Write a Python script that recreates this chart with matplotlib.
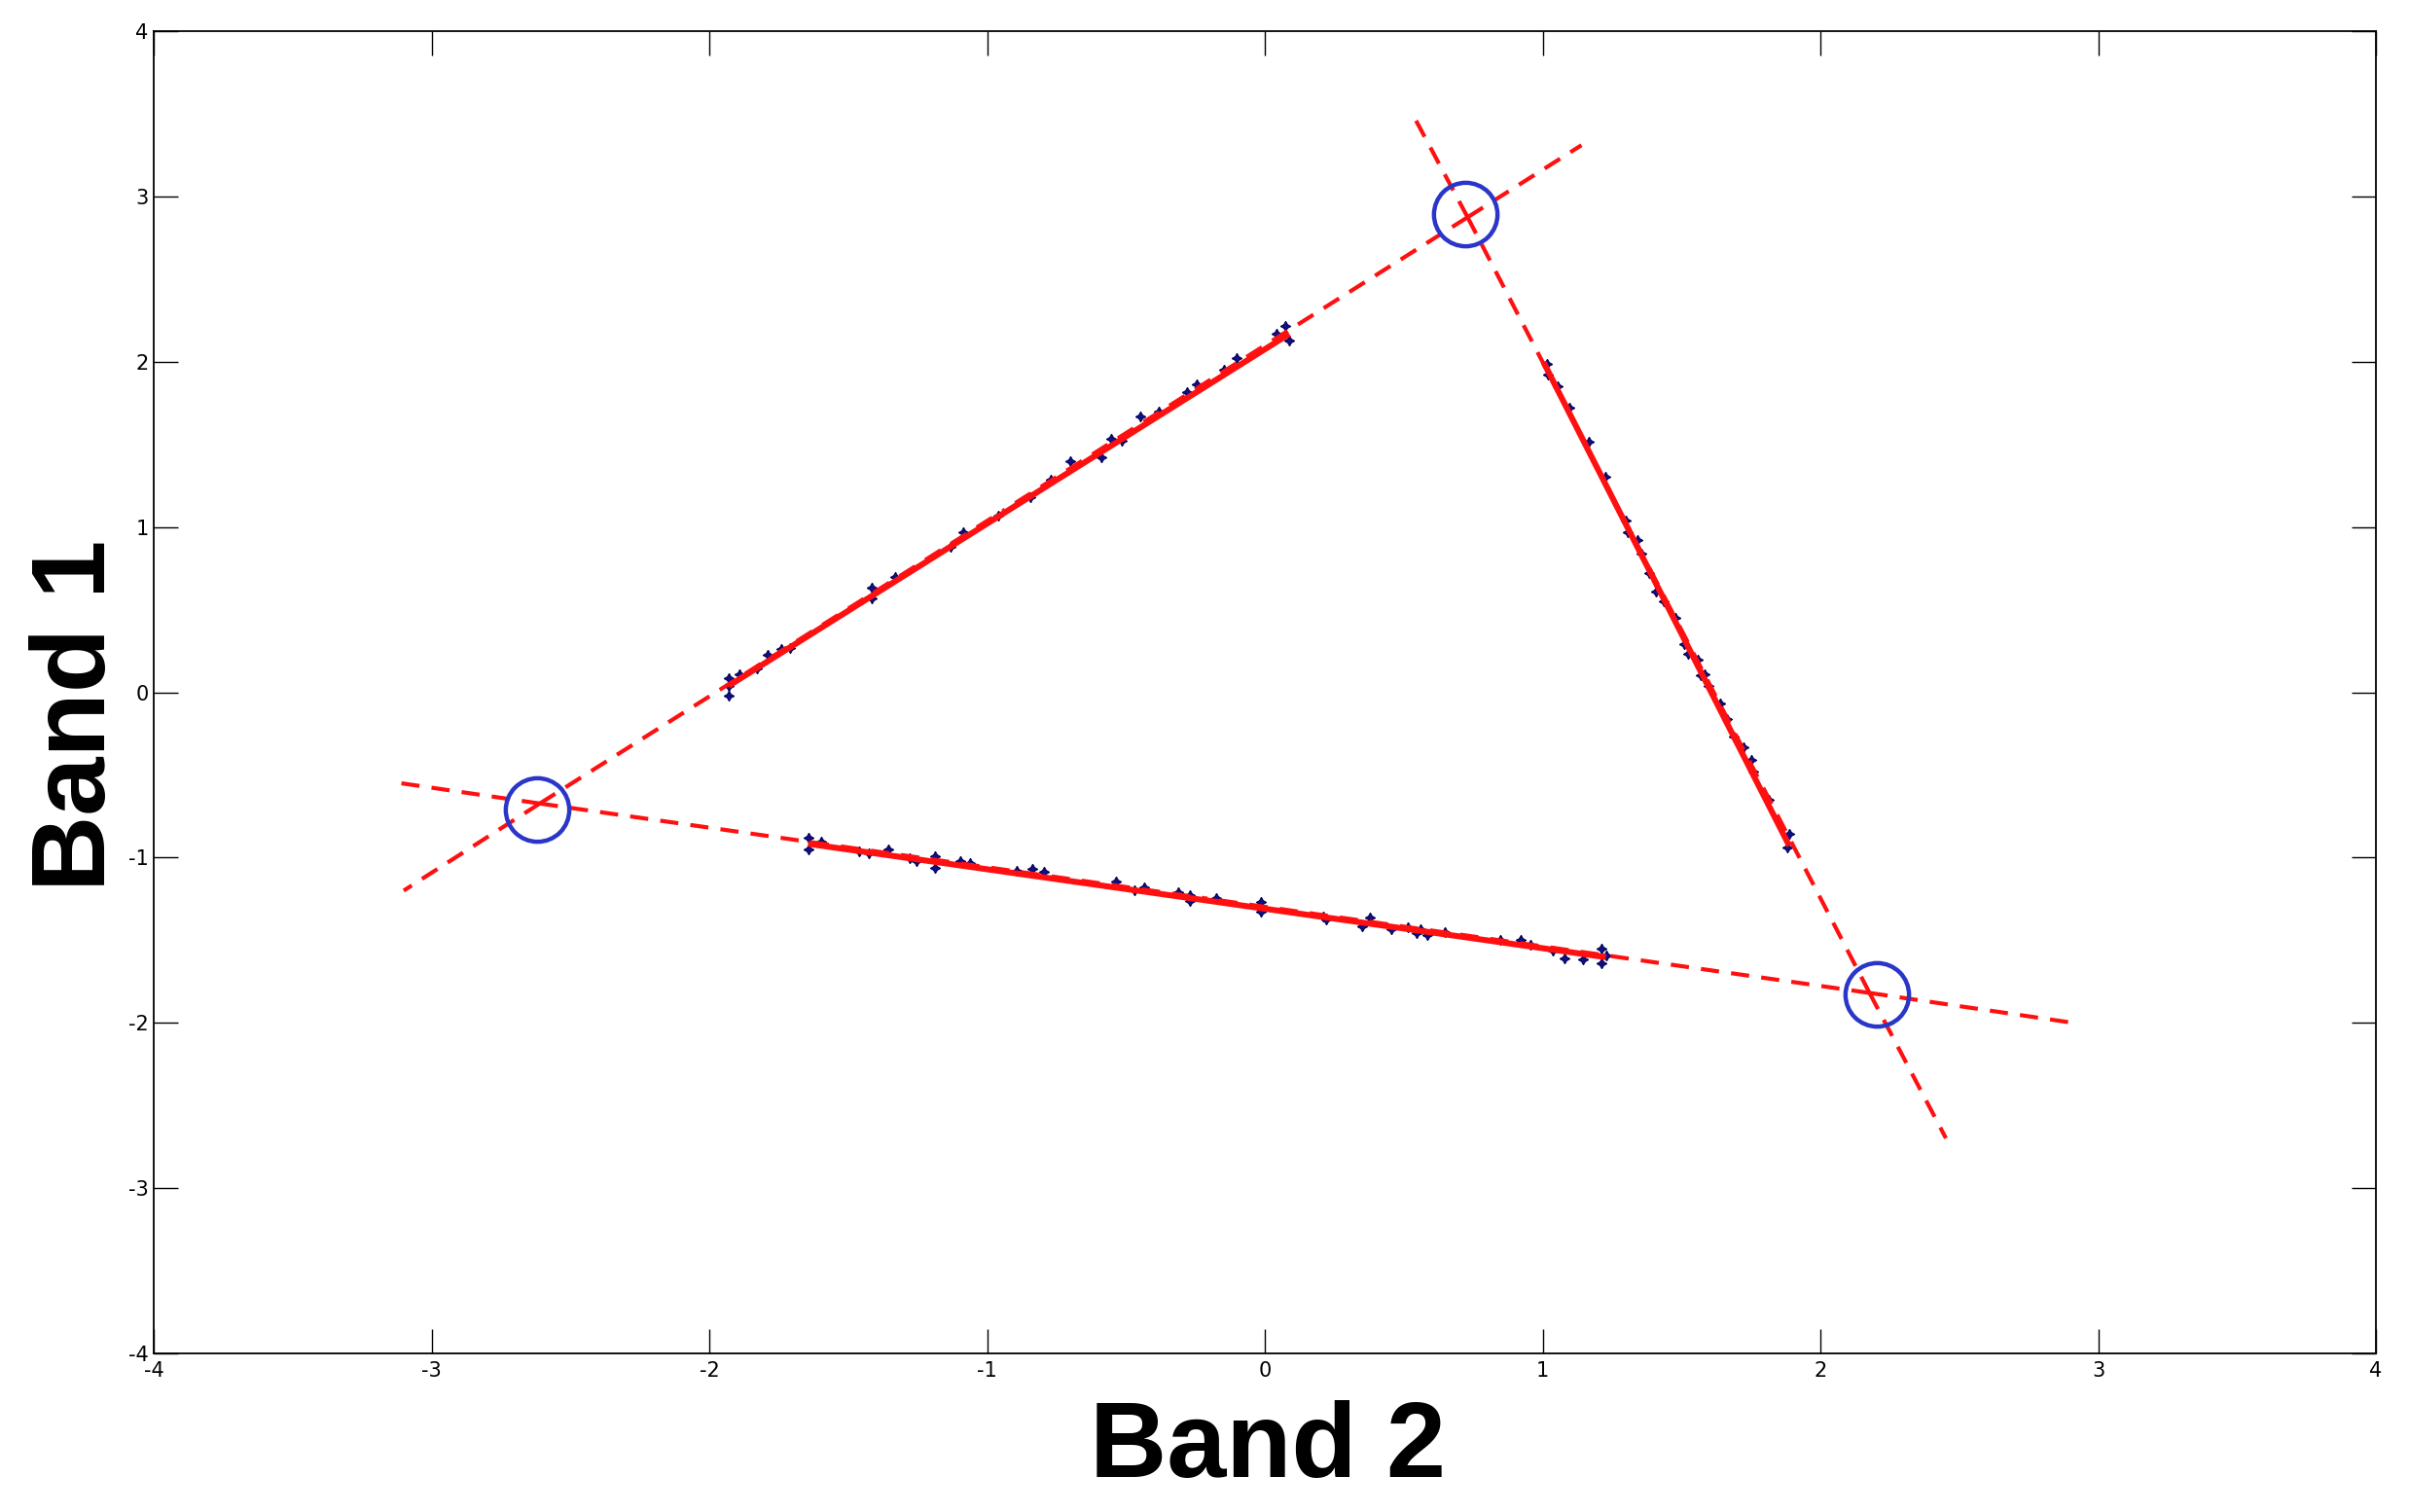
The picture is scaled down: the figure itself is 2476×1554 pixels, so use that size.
import matplotlib
matplotlib.use("Agg")
import matplotlib.pyplot as plt
import numpy as np

# ---- data ----
# scatter points along each edge
A_x = [-1.930, -1.930, -1.930, -1.890, -1.828, -1.789, -1.742, -1.711, -1.414, -1.414,
       -1.331, -1.132, -1.085, -0.960, -0.843, -0.772, -0.699, -0.588, -0.553, -0.515,
       -0.449, -0.381, -0.280, -0.246, -0.147, -0.103, 0.041, 0.072, 0.088]
A_y = [0.088, 0.039, -0.020, 0.108, 0.147, 0.225, 0.261, 0.270, 0.633, 0.569,
       0.700, 0.882, 0.971, 1.069, 1.183, 1.288, 1.398, 1.422, 1.536, 1.520,
       1.667, 1.697, 1.815, 1.863, 1.952, 2.021, 2.168, 2.217, 2.128]

B_x = [1.015, 1.021, 1.056, 1.098, 1.167, 1.226, 1.299, 1.306, 1.341, 1.354,
       1.383, 1.409, 1.437, 1.478, 1.508, 1.525, 1.559, 1.568, 1.583, 1.597,
       1.638, 1.662, 1.689, 1.722, 1.751, 1.758, 1.816, 1.888, 1.882]
B_y = [1.987, 1.923, 1.849, 1.721, 1.515, 1.306, 1.041, 0.970, 0.919, 0.838,
       0.721, 0.608, 0.551, 0.450, 0.289, 0.231, 0.195, 0.103, 0.110, 0.039,
       -0.067, -0.162, -0.269, -0.333, -0.407, -0.482, -0.652, -0.854, -0.939]

C_x = [-1.644, -1.644, -1.596, -1.460, -1.425, -1.354, -1.278, -1.255, -1.189, -1.189,
       -1.097, -1.062, -0.893, -0.838, -0.796, -0.537, -0.470, -0.434, -0.313, -0.271,
       -0.271, -0.175, -0.015, -0.015, 0.210, 0.222, 0.350, 0.379, 0.455, 0.514,
       0.546, 0.560, 0.586, 0.648, 0.847, 0.922, 0.957, 1.036, 1.078, 1.144,
       1.212, 1.212, 1.228]
C_y = [-0.883, -0.952, -0.903, -0.962, -0.976, -0.948, -1.001, -1.021, -0.991, -1.060,
       -1.021, -1.031, -1.079, -1.069, -1.085, -1.144, -1.197, -1.178, -1.207, -1.226,
       -1.262, -1.246, -1.270, -1.329, -1.354, -1.374, -1.413, -1.364, -1.433, -1.423,
       -1.458, -1.433, -1.466, -1.452, -1.497, -1.497, -1.525, -1.560, -1.609, -1.615,
       -1.550, -1.639, -1.590]

# fitted solid segments
solidA_x = [-1.930, 0.088]
solidA_y = [0.039, 2.168]
solidB_x = [1.003, 1.888]
solidB_y = [1.998, -0.929]
solidC_x = [-1.644, 1.228]
solidC_y = [-0.917, -1.603]

# intersection points (vertices): left, top, right
vert_x = [-2.610, 0.730, 2.177]
vert_y = [-0.673, 2.874, -1.819]

# outer ends of the dashed extensions
endA_x = [-3.100, 1.140]
endA_y = [-1.200, 3.310]
endB_x = [0.543, 2.452]
endB_y = [3.463, -2.698]
endC_x = [-3.111, 2.930]
endC_y = [-0.550, -2.005]

# circled endmembers
circ_x = [-2.619, 0.722, 2.203]
circ_y = [-0.707, 2.893, -1.825]

xticks = [-4, -3, -2, -1, 0, 1, 2, 3, 4]
yticks = [-4, -3, -2, -1, 0, 1, 2, 3, 4]

# ---- figure ----
W, H = 2476, 1554
fig = plt.figure(figsize=(W / 100, H / 100), dpi=100)
ax = fig.add_axes([158 / W, 1 - 1391 / H, (2442 - 158) / W, (1391 - 32) / H])

RED = '#ff1010'
BLUE_PT = '#10108c'
dash = (4.5, 3.0)

# points
for px, py in [(A_x, A_y), (B_x, B_y), (C_x, C_y)]:
    ax.plot(px, py, linestyle='none', marker=(4, 1, 0), ms=7.5, color=BLUE_PT,
            mec='#000050', mew=0.8, zorder=2)

# dashed extension lines, drawn outward from each vertex
lines = [
    (0, 1, endA_x, endA_y),   # left vertex - top vertex
    (1, 2, endB_x, endB_y),   # top vertex - right vertex
    (0, 2, endC_x, endC_y),   # left vertex - right vertex
]
for i, j, ex, ey in lines:
    vi = (vert_x[i], vert_y[i])
    vj = (vert_x[j], vert_y[j])
    mid = ((vi[0] + vj[0]) / 2, (vi[1] + vj[1]) / 2)
    segs = [
        ([vi[0], ex[0]], [vi[1], ey[0]]),
        ([vi[0], mid[0]], [vi[1], mid[1]]),
        ([vj[0], mid[0]], [vj[1], mid[1]]),
        ([vj[0], ex[1]], [vj[1], ey[1]]),
    ]
    for sx, sy in segs:
        ax.plot(sx, sy, color=RED, lw=3.0, linestyle=(0, dash), zorder=3)

# solid fitted segments
for sx, sy in [(solidA_x, solidA_y), (solidB_x, solidB_y), (solidC_x, solidC_y)]:
    ax.plot(sx, sy, color=RED, lw=4.4, solid_capstyle='butt', zorder=3.5)

# circles
ax.plot(circ_x, circ_y, linestyle='none', marker='o', ms=47, mfc='none',
        mec='#2a36c8', mew=3.2, zorder=4)

ax.set_xlim(-4, 4)
ax.set_ylim(-4, 4)
ax.set_xticks(xticks)
ax.set_yticks(yticks)
ax.set_xticklabels([str(t) for t in xticks])
ax.set_yticklabels([str(t) for t in yticks])
ax.tick_params(direction='in', length=18, width=1.0, top=True, right=True,
               labelsize=15, colors='black')
ax.tick_params(axis='x', pad=6)
ax.tick_params(axis='y', pad=4)
for lab in ax.get_xticklabels() + ax.get_yticklabels():
    lab.set_fontfamily('DejaVu Sans')
for sp in ax.spines.values():
    sp.set_linewidth(1.3)
    sp.set_color('black')

# axis labels
fig.text(1303 / W, 1 - 1518 / H, 'Band 2', fontsize=79, fontweight='bold',
         family='Liberation Sans', ha='center', va='baseline')
fig.text(108 / W, 1 - 735 / H, 'Band 1', fontsize=78, fontweight='bold',
         family='Liberation Sans', ha='center', va='baseline', rotation=90,
         rotation_mode='anchor')

fig.savefig('out.png', dpi=100, facecolor='white')
